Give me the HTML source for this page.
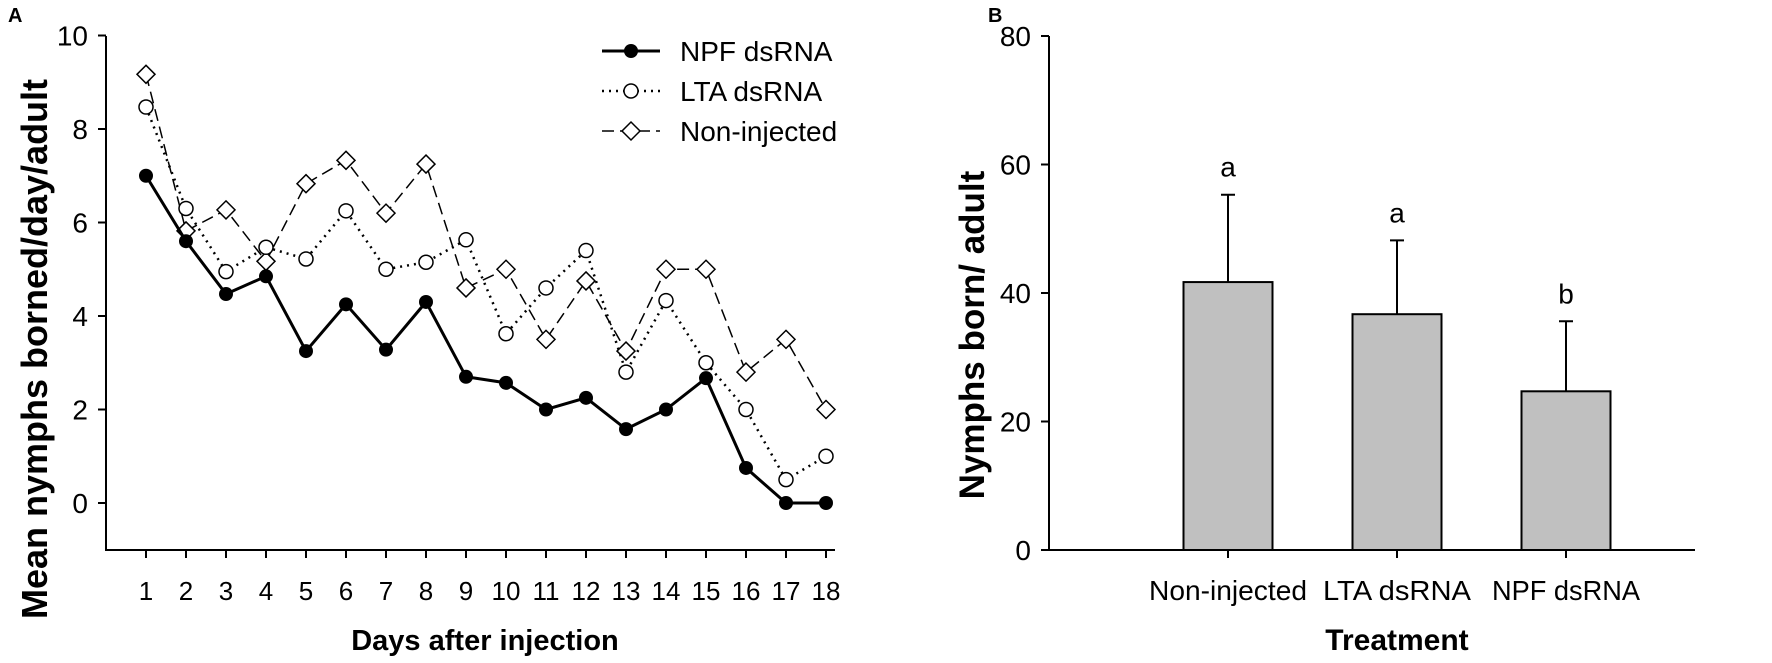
<!DOCTYPE html>
<html><head><meta charset="utf-8"><style>
body{margin:0;background:#fff;}
svg{display:block;font-family:"Liberation Sans",Arial,sans-serif;}
</style></head><body>
<svg id="fig" width="1772" height="663" viewBox="0 0 1772 663"></svg>
<script>
const days=[1,2,3,4,5,6,7,8,9,10,11,12,13,14,15,16,17,18];
const npfDaily=[7.0,5.6,4.47,4.85,3.25,4.25,3.28,4.3,2.7,2.57,2.0,2.25,1.58,2.0,2.67,0.75,0,0];
const ltaDaily=[8.47,6.3,4.95,5.47,5.22,6.25,5.0,5.15,5.63,3.62,4.6,5.4,2.8,4.33,3.0,2.0,0.5,1.0];
const nonDaily=[9.17,5.82,6.27,5.17,6.83,7.33,6.2,7.25,4.6,5.0,3.5,4.75,3.25,5.0,5.0,2.8,3.5,2.0];
const yTicksA=[0,2,4,6,8,10];
const treatments=["Non-injected","LTA dsRNA","NPF dsRNA"];
const barMeans=[41.7,36.7,24.7];
const barErrTop=[55.3,48.2,35.6];
const barLetters=["a","a","b"];
const yTicksB=[0,20,40,60,80];

const NS="http://www.w3.org/2000/svg";
const svg=document.getElementById('fig');
function mk(tag,attrs,parent){const e=document.createElementNS(NS,tag);for(const k in attrs)e.setAttribute(k,attrs[k]);(parent||svg).appendChild(e);return e;}
function txt(s,attrs,parent){const e=mk('text',attrs,parent);e.textContent=s;return e;}

const xA=d=>146+(d-1)*40;
const yA=v=>503-v*46.75;
const gA=mk('g',{});


let t=txt('A',{x:8,y:22,'font-size':20,'font-weight':'bold'},gA);

let ax=mk('path',{d:'M106,36 V550 H835',stroke:'#000','stroke-width':2,fill:'none'},gA);

yTicksA.forEach(v=>{
  mk('line',{x1:98,x2:106,y1:yA(v),y2:yA(v),stroke:'#000','stroke-width':2},gA);
  const e=txt(String(v),{x:88,y:yA(v)+10,'font-size':28,'text-anchor':'end'},gA);
  
  
});
days.forEach(d=>{
  mk('line',{x1:xA(d),x2:xA(d),y1:550,y2:558,stroke:'#000','stroke-width':2},gA);
  const e=txt(String(d),{x:xA(d),y:600,'font-size':26,'text-anchor':'middle'},gA);
  
  
});
t=txt('Days after injection',{x:485,y:650,'font-size':29,'font-weight':'bold','text-anchor':'middle'},gA);

t=txt('Mean nymphs borned/day/adult',{x:0,y:0,'font-size':36,'font-weight':'bold','text-anchor':'middle',transform:'translate(47,349) rotate(-90)'},gA);


function series(vals,name,dash,width,marker){
  const g=mk('g',{},gA);
  
  
  const pts=vals.map((v,i)=>xA(days[i])+','+yA(v)).join(' ');
  mk('polyline',{points:pts,fill:'none',stroke:'#000','stroke-width':width,'stroke-dasharray':dash},g);
  vals.forEach((v,i)=>drawMarker(marker,xA(days[i]),yA(v),g));
}
function drawMarker(m,x,y,g){
  let e;
  if(m==='filled')e=mk('circle',{cx:x,cy:y,r:7,fill:'#000'},g);
  else if(m==='open')e=mk('circle',{cx:x,cy:y,r:7,fill:'#fff',stroke:'#000','stroke-width':1.5},g);
  else e=mk('polygon',{points:`${x},${y-9} ${x+9},${y} ${x},${y+9} ${x-9},${y}`,fill:'#fff',stroke:'#000','stroke-width':1.5},g);
  
  
}
series(nonDaily,'series-non-injected','12,6',1.5,'diamond');
series(ltaDaily,'series-lta-dsrna','2,5',2.5,'open');
series(npfDaily,'series-npf-dsrna','',3,'filled');

const legend=[['NPF dsRNA','',3,'filled'],['LTA dsRNA','2,5',2.5,'open'],['Non-injected','12,6',1.5,'diamond']];
legend.forEach((L,i)=>{
  const y=51+i*40;
  const g=mk('g',{},gA);
  
  
  mk('line',{x1:602,x2:660,y1:y,y2:y,stroke:'#000','stroke-width':L[2],'stroke-dasharray':L[1]},g);
  drawMarker(L[3],631,y,g);
  txt(L[0],{x:680,y:y+10,'font-size':28},g);
});

const yB=v=>550-v*6.425;
const xB=i=>1228+i*169;
const gB=mk('g',{});


t=txt('B',{x:988,y:22,'font-size':20,'font-weight':'bold'},gB);

ax=mk('path',{d:'M1049,36 V550 H1695',stroke:'#000','stroke-width':2,fill:'none'},gB);

yTicksB.forEach(v=>{
  mk('line',{x1:1041,x2:1049,y1:yB(v),y2:yB(v),stroke:'#000','stroke-width':2},gB);
  const e=txt(String(v),{x:1031,y:yB(v)+10,'font-size':28,'text-anchor':'end'},gB);
  
  
});
treatments.forEach((c,i)=>{
  const x=xB(i);
  const top=yB(barMeans[i]);
  const b=mk('rect',{x:x-44.5,y:top,width:89,height:550-top,fill:'#c0c0c0',stroke:'#000','stroke-width':2},gB);
  
  
  const ey=yB(barErrTop[i]);
  const eb=mk('path',{d:`M${x},${top} V${ey} M${x-7},${ey} H${x+7}`,stroke:'#000','stroke-width':2,fill:'none'},gB);
  
  
  const lt=txt(barLetters[i],{x:x,y:ey-18,'font-size':28,'text-anchor':'middle'},gB);
  
  
  mk('line',{x1:x,x2:x,y1:550,y2:558,stroke:'#000','stroke-width':2},gB);
  const cl=txt(c,{x:x,y:600,'font-size':28,'text-anchor':'middle',textLength:c.length>10?158:148,lengthAdjust:'spacingAndGlyphs'},gB);
  
  
});
t=txt('Treatment',{x:1397,y:650,'font-size':30,'font-weight':'bold','text-anchor':'middle'},gB);

t=txt('Nymphs born/ adult',{x:0,y:0,'font-size':35,'font-weight':'bold','text-anchor':'middle',transform:'translate(984,335) rotate(-90)'},gB);

</script>
</body></html>
